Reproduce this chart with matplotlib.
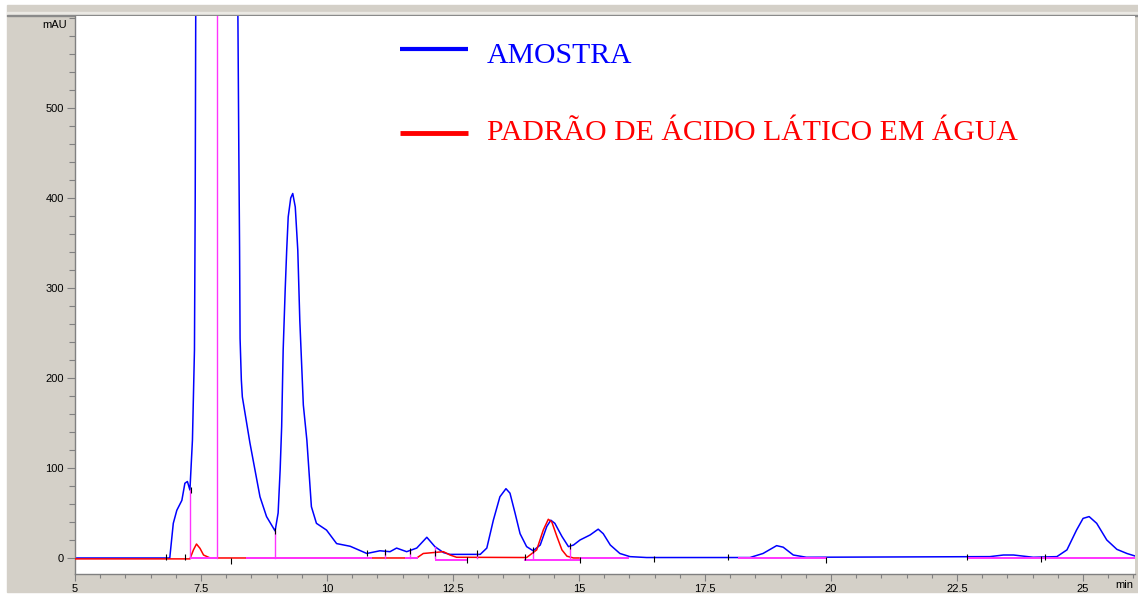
import matplotlib
matplotlib.use("Agg")
import matplotlib.pyplot as plt
from matplotlib.patches import Rectangle
from matplotlib.lines import Line2D
from matplotlib.ticker import MultipleLocator

# blue trace (AMOSTRA): retention time (min), signal (mAU)
amostra_t = [5.0, 6.85, 6.88, 6.95, 7.02, 7.12, 7.18, 7.23, 7.28, 7.33, 7.37, 7.385,
             7.40, 7.80, 8.22, 8.25, 8.265, 8.275, 8.30, 8.32, 8.47, 8.57, 8.67, 8.80,
             8.97, 9.03, 9.07, 9.10, 9.13, 9.17, 9.20, 9.23, 9.28, 9.32, 9.37, 9.42,
             9.46, 9.53, 9.60, 9.69, 9.79, 9.99, 10.19, 10.46, 10.79, 11.05, 11.25,
             11.38, 11.58, 11.78, 11.98, 12.14, 12.31, 12.44, 13.04, 13.17, 13.30,
             13.43, 13.55, 13.63, 13.73, 13.83, 13.96, 14.09, 14.23, 14.36, 14.44,
             14.52, 14.66, 14.79, 14.89, 15.02, 15.22, 15.38, 15.48, 15.62, 15.81,
             16.01, 16.34, 18.39, 18.65, 18.92, 19.05, 19.25, 19.51, 23.15, 23.42,
             23.62, 24.01, 24.48, 24.68, 24.87, 25.00, 25.12, 25.27, 25.47, 25.67,
             25.87, 26.03]
amostra_v = [0, 0, 0, 38.5, 53, 64, 83, 85, 75.5, 131, 231, 400,
             700, 1500, 700, 453, 345, 244, 198, 179, 128, 98, 68, 46,
             30, 50, 98, 146, 231, 298, 342, 379, 400, 405, 390, 342,
             264, 170, 131, 57, 38.5, 31, 16, 13, 5, 8, 7,
             11, 7, 11, 23, 12.6, 6, 4, 4, 11, 42,
             68, 77, 72, 50, 27, 12.6, 8, 14.4, 35, 42,
             38.5, 24, 12.6, 14.4, 20, 25.6, 32, 27, 14.4, 5,
             1.5, 0.5, 0.5, 5, 13.7, 12, 3.3, 0.8, 1.5, 3.3,
             3.3, 0.8, 1.5, 9, 31, 44, 46, 38.5, 20, 9.6,
             5, 2.2]

# red trace (lactic acid standard)
padrao_t = [5.0, 7.28, 7.35, 7.41, 7.48, 7.55, 7.68, 11.78, 11.91, 12.11, 12.31,
            12.44, 12.57, 13.96, 14.16, 14.29, 14.39, 14.46, 14.56, 14.66, 14.76,
            14.89, 15.0]
padrao_v = [-1, -1, 9, 15.5, 10.7, 3.3, 0, 0, 5, 6, 7,
            3.3, 0.8, 0.5, 9, 31, 43, 40, 24, 9, 2,
            0, 0]

# integration baselines (magenta)
base_start = [7.28, 8.40, 11.55, 12.14, 13.90, 15.02, 18.15, 22.70]
base_end = [7.81, 10.90, 11.80, 12.77, 15.02, 16.00, 19.91, 26.03]
base_level = [-0.5, 0.5, 0, -2, -2, 0, 0, 0]

# drop lines (magenta)
drop_t = [7.28, 7.81, 8.97, 11.15, 11.65, 12.14, 12.97, 14.09, 14.82]
drop_top = [76, 700, 30, 7, 8, 12.6, 4, 8, 13]

# integration event ticks (black)
event_t = [6.80, 7.18, 7.30, 8.10, 8.97, 10.79, 11.15, 11.65, 12.14, 12.77, 12.97,
           13.93, 14.09, 14.82, 15.02, 16.49, 17.95, 19.90, 22.70, 24.16, 24.25]
event_v = [1, 1, 76, -3, 30, 5, 7, 8, 5, -2, 5,
           1, 9, 13, -2, -1, 1, -2, 1, -1, 1]

W, H = 1138, 595
fig = plt.figure(figsize=(W / 100, H / 100), dpi=100, facecolor="white")

# window-like gray frame
gray = "#d4d0c8"
fig.add_artist(Rectangle((7 / W, 1 - 592 / H), 1 - 7 / W, 587 / H,
                         transform=fig.transFigure, color=gray, zorder=0))
fig.add_artist(Rectangle((7 / W, 1 - 14 / H), 1 - 7 / W, 2 / H,
                         transform=fig.transFigure, color="#ebe9e4", zorder=0))
fig.add_artist(Rectangle((7 / W, 1 - 16 / H), 1 - 7 / W, 1.5 / H,
                         transform=fig.transFigure, color="#8a8a8a", zorder=0))

ax = fig.add_axes([75 / W, 1 - 574 / H, 1060 / W, 558 / H])
ax.set_facecolor("white")

ax.plot(amostra_t, amostra_v, color="#0000ff", lw=1.1, zorder=2)
ax.plot(padrao_t, padrao_v, color="#ff0000", lw=1.1, zorder=3)
for s, e, lv in zip(base_start, base_end, base_level):
    ax.plot([s, e], [lv, lv], color="#ff33ff", lw=1.4, zorder=4, solid_capstyle="butt")
for t, top in zip(drop_t, drop_top):
    ax.plot([t, t], [0, top], color="#ff33ff", lw=1.0, zorder=4)
ax.plot(event_t, event_v, ls="none", marker="|", color="black", ms=4, mew=0.8, zorder=5)

ax.set_xlim(5, 26.03)
ax.set_ylim(-17.8, 602.2)
ax.xaxis.set_minor_locator(MultipleLocator(0.5))
ax.yaxis.set_minor_locator(MultipleLocator(20))
ax.set_xticks([5, 7.5, 10, 12.5, 15, 17.5, 20, 22.5, 25])
ax.set_xticklabels(["5", "7.5", "10", "12.5", "15", "17.5", "20", "22.5", "25"])
ax.set_yticks([0, 100, 200, 300, 400, 500])
ax.tick_params(which="major", length=5, width=0.8, color="#808080",
               labelsize=8, labelcolor="black", pad=2, direction="out")
ax.tick_params(which="minor", length=3, width=0.8, color="#808080", direction="out")
ax.tick_params(axis="y", which="major", length=6)
ax.tick_params(axis="y", which="minor", length=4)
for side in ["top", "right"]:
    ax.spines[side].set_visible(False)
for side in ["left", "bottom"]:
    ax.spines[side].set_color("#808080")
    ax.spines[side].set_linewidth(1.0)

for lab in ax.get_xticklabels() + ax.get_yticklabels():
    lab.set_family("Liberation Sans")

fig.text(67 / W, 1 - 25 / H, "mAU", ha="right", va="center", fontsize=8,
         family="Liberation Sans")
fig.text(1133 / W, 1 - 585 / H, "min", ha="right", va="center", fontsize=8,
         family="Liberation Sans")

# legend drawn as in the original screenshot
ax.add_line(Line2D([0.3066, 0.3708], [0.9409, 0.9409], transform=ax.transAxes,
                   color="#0000ff", lw=3, solid_capstyle="butt"))
ax.add_line(Line2D([0.3066, 0.3708], [0.7903, 0.7903], transform=ax.transAxes,
                   color="#ff0000", lw=3.5, solid_capstyle="butt"))
ax.text(0.3887, 0.9163, "AMOSTRA", transform=ax.transAxes, color="#0000ff",
        fontsize=21.4, family="Liberation Serif", va="baseline")
ax.text(0.3887, 0.7778, "PADRÃO DE ÁCIDO LÁTICO EM ÁGUA", transform=ax.transAxes,
        color="#ff0000", fontsize=21.4, family="Liberation Serif", va="baseline")

fig.savefig("out.png", dpi=100, facecolor="white")
